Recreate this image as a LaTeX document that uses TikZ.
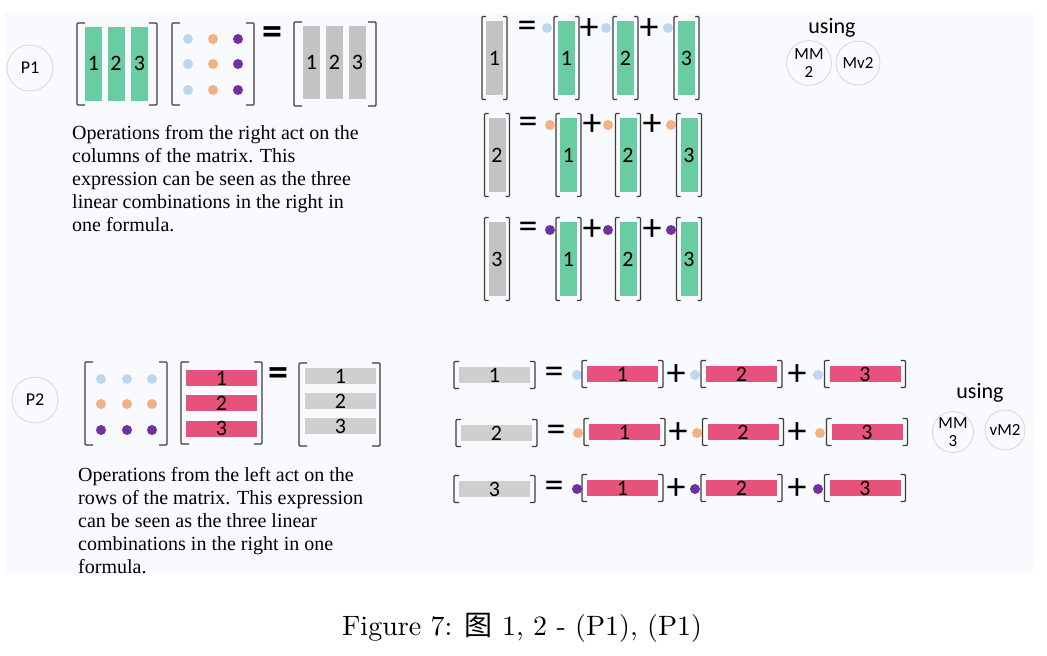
\documentclass[tikz,border=0pt]{standalone}
\usepackage{fontspec}
\newfontfamily\calfont{Carlito}
\newfontfamily\descfont{Liberation Serif}
\newfontfamily\capfont{lmroman10-regular}[Extension=.otf]
\newfontfamily\cjk{Noto Sans CJK SC}

\definecolor{colgreen}{RGB}{106,204,162}
\definecolor{colgray}{RGB}{195,195,195}
\definecolor{rowgray}{RGB}{207,207,207}
\definecolor{rowpink}{RGB}{231,82,124}
\definecolor{dotblue}{RGB}{189,215,238}
\definecolor{dotorange}{RGB}{244,177,131}
\definecolor{dotpurple}{RGB}{112,48,160}
\definecolor{bgpane}{RGB}{249,250,253}
\definecolor{ringgray}{RGB}{217,217,217}
\definecolor{brkgray}{RGB}{60,60,60}

\tikzset{
  bline/.style={draw=brkgray, line width=1.3pt, rounded corners=1pt},
  brk/.style={append after command={\pgfextra{
    \draw[bline] ([xshift=#1]\tikzlastnode.north west) -- (\tikzlastnode.north west)
      -- (\tikzlastnode.south west) -- ([xshift=#1]\tikzlastnode.south west);
    \draw[bline] ([xshift=-#1]\tikzlastnode.north east) -- (\tikzlastnode.north east)
      -- (\tikzlastnode.south east) -- ([xshift=-#1]\tikzlastnode.south east);}}},
  brk/.default=5pt,
  box/.style={inner sep=0pt, outer sep=0pt, brk=8pt},
  sbrk/.style={brk=4pt, outer xsep=4pt, outer ysep=4.5pt},
  wbrk/.style={brk=5pt, outer xsep=5pt, outer ysep=5.5pt},
  bar/.style={rectangle, inner sep=0pt, font=\calfont\fontsize{22}{22}\selectfont},
  gcol/.style={bar, fill=colgreen, minimum width=17pt, minimum height=74pt},
  gycol/.style={bar, fill=colgray, minimum width=17pt, minimum height=74pt},
  prow/.style={bar, fill=rowpink, minimum width=71pt, minimum height=16pt},
  gyrow/.style={bar, fill=rowgray, minimum width=71pt, minimum height=16pt},
  dot/.style={circle, inner sep=0pt, minimum size=10pt},
  ring/.style={circle, draw=ringgray, line width=0.9pt, inner sep=0pt, align=center,
    font=\calfont\fontsize{17}{18}\selectfont},
  sym/.style={inner sep=0pt, font=\calfont\fontsize{38}{38}\selectfont},
  bsym/.style={inner sep=0pt, font=\calfont\bfseries\fontsize{40}{40}\selectfont},
  note/.style={inner sep=0pt, font=\calfont\fontsize{22}{22}\selectfont},
  desc/.style={inner sep=0pt, align=left, anchor=north west,
    font=\descfont\fontsize{20}{23}\selectfont}
}

\begin{document}
\begin{tikzpicture}[x=1pt,y=-1pt]
\useasboundingbox (0,0) rectangle (1047,656);
\fill[bgpane] (5,13) rectangle (1033,575);

% P1: columns
\node[ring, minimum size=46pt, font=\calfont\fontsize{18}{18}\selectfont] (p1) at (30,68) {P1};
\node[box, minimum width=80pt, minimum height=82pt] (mA) at (117,64) {};
\node[gcol] (a1) at (93.5,63.5) {1};
\node[gcol] (a2) at (116,63.5) {2};
\node[gcol] (a3) at (139.5,63.5) {3};
\node[box, minimum width=82pt, minimum height=82pt] (mB) at (213,64) {};
\node[dot, fill=dotblue] (b11) at (188,39) {};
\node[dot, fill=dotblue] (b21) at (188,64) {};
\node[dot, fill=dotblue] (b31) at (188,90) {};
\node[dot, fill=dotorange] (b12) at (213,39) {};
\node[dot, fill=dotorange] (b22) at (213,64) {};
\node[dot, fill=dotorange] (b32) at (213,90) {};
\node[dot, fill=dotpurple] (b13) at (238,39) {};
\node[dot, fill=dotpurple] (b23) at (238,64) {};
\node[dot, fill=dotpurple] (b33) at (238,90) {};
\node[bsym] (eqA) at (272,36) {=};
\node[box, minimum width=82pt, minimum height=84pt] (mC) at (335,64) {};
\node[gycol, minimum height=73pt] (c1) at (311.5,62.5) {1};
\node[gycol, minimum height=73pt] (c2) at (334.5,62.5) {2};
\node[gycol, minimum height=73pt] (c3) at (357.5,62.5) {3};
\node[desc] (txtA) at (72,125) {Operations from the right act on the\\columns of the matrix. This\\expression can be seen as the three\\linear combinations in the right in\\one formula.};

% column 1
\node[gycol, sbrk] (r1) at (494.5,58) {1};
\node[sym] (r1eq) at (527,29) {=};
\node[dot, fill=dotblue] (r1d1) at (547,28) {};
\node[gcol, sbrk] (r1g1) at (566.5,58) {1};
\node[sym] (r1p1) at (589,29) {+};
\node[dot, fill=dotblue] (r1d2) at (606,28) {};
\node[gcol, sbrk] (r1g2) at (625.5,58) {2};
\node[sym] (r1p2) at (649,29) {+};
\node[dot, fill=dotblue] (r1d3) at (668,28) {};
\node[gcol, sbrk] (r1g3) at (686.5,58) {3};
% column 2
\node[gycol, sbrk] (r2) at (497,155) {2};
\node[sym] (r2eq) at (528,125) {=};
\node[dot, fill=dotorange] (r2d1) at (550,125) {};
\node[gcol, sbrk] (r2g1) at (568.5,155) {1};
\node[sym] (r2p1) at (592,125) {+};
\node[dot, fill=dotorange] (r2d2) at (608,125) {};
\node[gcol, sbrk] (r2g2) at (628,155) {2};
\node[sym] (r2p2) at (652,125) {+};
\node[dot, fill=dotorange] (r2d3) at (671,125) {};
\node[gcol, sbrk] (r2g3) at (689,155) {3};
% column 3
\node[gycol, sbrk] (r3) at (497,259) {3};
\node[sym] (r3eq) at (528,230) {=};
\node[dot, fill=dotpurple] (r3d1) at (550,230) {};
\node[gcol, sbrk] (r3g1) at (568.5,259) {1};
\node[sym] (r3p1) at (592,230) {+};
\node[dot, fill=dotpurple] (r3d2) at (608,230) {};
\node[gcol, sbrk] (r3g2) at (628,259) {2};
\node[sym] (r3p2) at (652,230) {+};
\node[dot, fill=dotpurple] (r3d3) at (671,230) {};
\node[gcol, sbrk] (r3g3) at (689,259) {3};

\node[note] (useA) at (832,28) {using};
\node[ring, minimum size=45pt] (mm2) at (809,63) {MM\\2};
\node[ring, minimum size=44pt] (mv2) at (858,63) {Mv2};

% P2: rows
\node[ring, minimum size=46pt, font=\calfont\fontsize{18}{18}\selectfont] (p2) at (35,400) {P2};
\node[box, minimum width=82pt, minimum height=83pt] (mD) at (126,403.5) {};
\node[dot, fill=dotblue] (d11) at (101,379) {};
\node[dot, fill=dotblue] (d12) at (127,379) {};
\node[dot, fill=dotblue] (d13) at (152,379) {};
\node[dot, fill=dotorange] (d21) at (101,404) {};
\node[dot, fill=dotorange] (d22) at (127,404) {};
\node[dot, fill=dotorange] (d23) at (152,404) {};
\node[dot, fill=dotpurple] (d31) at (101,430) {};
\node[dot, fill=dotpurple] (d32) at (127,430) {};
\node[dot, fill=dotpurple] (d33) at (152,430) {};
\node[box, minimum width=81pt, minimum height=82pt] (mE) at (221.5,403) {};
\node[prow] (e1) at (221.5,378) {1};
\node[prow] (e2) at (221.5,403) {2};
\node[prow] (e3) at (221.5,428.5) {3};
\node[bsym] (eqB) at (278,377) {=};
\node[box, minimum width=81pt, minimum height=83pt] (mF) at (339.5,404.5) {};
\node[gyrow] (f1) at (340.5,376) {1};
\node[gyrow] (f2) at (340.5,401) {2};
\node[gyrow] (f3) at (340.5,426) {3};
\node[desc] (txtB) at (78,467) {Operations from the left act on the\\rows of the matrix. This expression\\can be seen as the three linear\\combinations in the right in one\\formula.};

% row 1
\node[gyrow, wbrk] (s1) at (494.5,375) {1};
\node[sym] (s1eq) at (554,375) {=};
\node[dot, fill=dotblue] (s1d1) at (577,375) {};
\node[prow, wbrk] (s1p1) at (622.5,374) {1};
\node[sym] (s1a1) at (676,375) {+};
\node[dot, fill=dotblue] (s1d2) at (695,375) {};
\node[prow, wbrk] (s1p2) at (741.5,374) {2};
\node[sym] (s1a2) at (797,375) {+};
\node[dot, fill=dotblue] (s1d3) at (818,375) {};
\node[prow, wbrk] (s1p3) at (865,374) {3};
% row 2
\node[gyrow, wbrk] (s2) at (496.5,433) {2};
\node[sym] (s2eq) at (556,433) {=};
\node[dot, fill=dotorange] (s2d1) at (578,433) {};
\node[prow, wbrk] (s2p1) at (624.5,432) {1};
\node[sym] (s2a1) at (678,433) {+};
\node[dot, fill=dotorange] (s2d2) at (697,433) {};
\node[prow, wbrk] (s2p2) at (743,432) {2};
\node[sym] (s2a2) at (797,433) {+};
\node[dot, fill=dotorange] (s2d3) at (820,433) {};
\node[prow, wbrk] (s2p3) at (867,432) {3};
% row 3
\node[gyrow, wbrk] (s3) at (494.5,489) {3};
\node[sym] (s3eq) at (554,489) {=};
\node[dot, fill=dotpurple] (s3d1) at (577,489) {};
\node[prow, wbrk] (s3p1) at (622.5,488) {1};
\node[sym] (s3a1) at (676,489) {+};
\node[dot, fill=dotpurple] (s3d2) at (695,489) {};
\node[prow, wbrk] (s3p2) at (741.5,488) {2};
\node[sym] (s3a2) at (797,489) {+};
\node[dot, fill=dotpurple] (s3d3) at (818,489) {};
\node[prow, wbrk] (s3p3) at (865,488) {3};

\node[note] (useB) at (980,393) {using};
\node[ring, minimum size=39pt] (mm3) at (953,432) {MM\\3};
\node[ring, minimum size=40pt] (vm2) at (1005,430) {vM2};

\node[anchor=base west, inner sep=0pt, font=\capfont\fontsize{28}{30}\selectfont] (cap) at (342,635) {Figure 7: {\cjk 图} 1, 2 - (P1), (P1)};
\end{tikzpicture}
\end{document}
